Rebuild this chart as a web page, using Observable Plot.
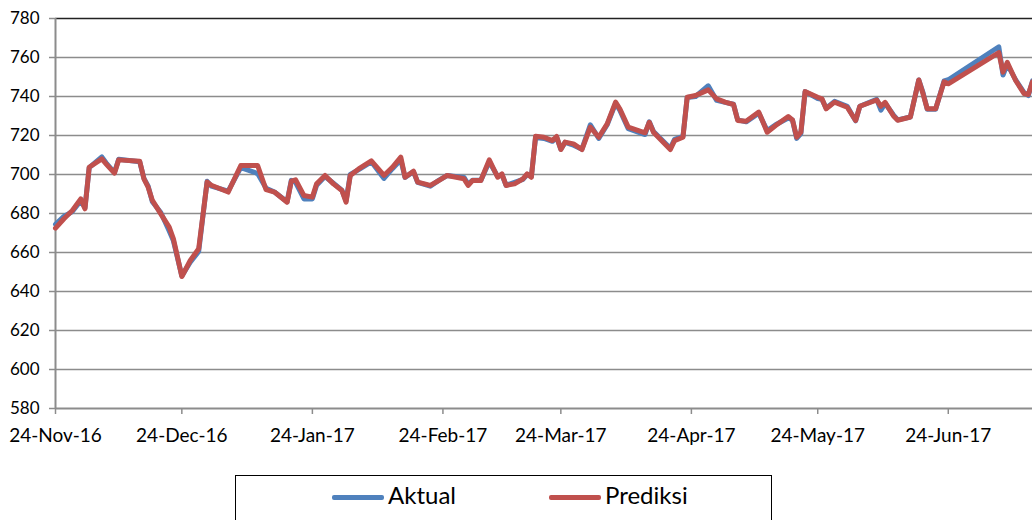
<!DOCTYPE html>
<html>
<head>
<meta charset="utf-8">
<script src="https://cdn.jsdelivr.net/npm/d3@7"></script>
<script src="https://cdn.jsdelivr.net/npm/@observablehq/plot@0.6"></script>
<style>
  html, body { margin: 0; padding: 0; background: #fff; }
  #wrap { position: relative; width: 1032px; height: 520px; overflow: hidden; font-family: Lato, sans-serif; }
  #wrap svg { display: block; }
  .legend { position: absolute; left: 235px; top: 475px; width: 537px; height: 70px; border: 1.5px solid #000; box-sizing: border-box; background: #fff; }
  .sw { position: absolute; top: 19px; width: 52px; height: 5px; border-radius: 2px; }
  .lt { position: absolute; top: 5px; font-size: 24px; line-height: 28px; color: #000; }
</style>
</head>
<body>
<div id="wrap"></div>
<script>
// Dates of the line vertices
const dates = [
  "2016-11-24","2016-11-26","2016-11-28","2016-11-30","2016-12-01","2016-12-02","2016-12-05","2016-12-06",
  "2016-12-08","2016-12-09","2016-12-14","2016-12-15","2016-12-16","2016-12-17","2016-12-19","2016-12-21",
  "2016-12-22","2016-12-24","2016-12-26","2016-12-28","2016-12-30","2016-12-31","2017-01-04","2017-01-07",
  "2017-01-11","2017-01-13","2017-01-15","2017-01-18","2017-01-19","2017-01-20","2017-01-22","2017-01-24",
  "2017-01-25","2017-01-27","2017-01-29","2017-01-31","2017-02-01","2017-02-02","2017-02-04","2017-02-07",
  "2017-02-10","2017-02-12","2017-02-14","2017-02-15","2017-02-17","2017-02-18","2017-02-21","2017-02-23",
  "2017-02-25","2017-03-01","2017-03-02","2017-03-03","2017-03-05","2017-03-07","2017-03-09","2017-03-10",
  "2017-03-11","2017-03-13","2017-03-15","2017-03-16","2017-03-17","2017-03-18","2017-03-20","2017-03-22",
  "2017-03-23","2017-03-24","2017-03-25","2017-03-27","2017-03-29","2017-03-31","2017-04-02","2017-04-04",
  "2017-04-06","2017-04-07","2017-04-09","2017-04-13","2017-04-14","2017-04-15","2017-04-19","2017-04-20",
  "2017-04-22","2017-04-23","2017-04-25","2017-04-28","2017-04-30","2017-05-02","2017-05-04","2017-05-05",
  "2017-05-07","2017-05-10","2017-05-12","2017-05-14","2017-05-17","2017-05-18","2017-05-19","2017-05-20",
  "2017-05-21","2017-05-24","2017-05-25","2017-05-26","2017-05-28","2017-05-31","2017-06-02","2017-06-03",
  "2017-06-07","2017-06-08","2017-06-09","2017-06-11","2017-06-12","2017-06-15","2017-06-17","2017-06-18",
  "2017-06-19","2017-06-21","2017-06-23","2017-06-24","2017-07-06","2017-07-07","2017-07-08","2017-07-10",
  "2017-07-12","2017-07-13","2017-07-14"
];
const aktual = [
  674.5,678.5,681.0,686.5,683.0,703.5,709.0,706.0,
  701.0,707.8,706.5,698.0,694.0,686.0,680.5,671.0,
  666.0,648.0,655.0,660.5,696.5,694.0,691.5,703.5,
  700.5,693.0,691.0,686.0,697.0,696.0,687.5,687.5,
  694.5,699.0,695.5,692.0,686.5,700.0,702.5,706.5,
  698.0,703.0,707.5,698.5,701.5,696.0,694.0,697.0,
  699.5,698.5,695.0,697.0,697.0,706.5,699.0,700.0,
  694.5,696.0,697.5,700.0,699.0,719.0,718.5,717.0,
  719.0,713.0,716.5,715.0,713.0,725.5,718.5,725.5,
  736.5,733.0,723.5,720.5,727.0,722.0,713.5,718.0,
  719.5,739.5,740.0,745.5,738.0,737.0,736.0,728.0,
  727.0,731.5,722.5,725.5,729.0,728.0,718.5,721.0,
  742.5,739.0,738.5,734.0,737.5,735.0,727.5,735.0,
  738.5,733.0,736.5,730.5,728.0,729.5,748.5,742.0,
  733.5,733.5,748.0,748.6,765.5,751.0,756.5,748.5,
  742.0,740.5,748.0
];
const prediksi = [
  672.5,677.3,681.5,687.5,682.4,703.7,708.0,705.5,
  700.7,707.5,706.8,697.8,693.5,686.7,679.8,673.0,
  667.0,647.7,655.9,661.9,696.1,694.5,691.0,704.6,
  704.6,692.2,691.0,685.8,696.6,697.3,689.2,688.4,
  695.2,699.5,695.2,691.8,685.8,699.5,702.9,707.0,
  699.5,703.7,708.9,698.6,701.7,696.1,694.4,696.9,
  699.5,697.8,694.4,696.9,696.9,707.5,698.6,700.3,
  694.4,695.2,697.8,700.3,698.6,719.6,719.1,717.4,
  719.5,712.8,716.6,715.7,712.8,724.3,719.1,726.0,
  737.1,733.7,724.3,721.4,726.8,721.7,712.8,717.4,
  719.1,739.6,740.5,743.4,738.8,737.1,735.9,727.7,
  727.3,732.0,721.7,725.1,729.7,728.0,719.1,721.7,
  742.5,739.6,738.8,733.7,737.1,734.5,727.7,735.0,
  738.2,735.0,737.0,730.0,727.8,729.5,748.5,741.4,
  733.7,733.7,747.5,746.5,762.5,752.5,757.5,748.2,
  741.5,741.0,747.5
];
const yTicks = [580,600,620,640,660,680,700,720,740,760,780];
const xTickLabels = ["2016-11-24","2016-12-24","2017-01-24","2017-02-24","2017-03-24","2017-04-24","2017-05-24","2017-06-24"];
const xDomain = ["2016-11-24","2017-07-14"];
const seriesNames = ["Aktual","Prediksi"];
const seriesColors = ["#4F81BD","#C0504D"];

const parse = d3.utcParse("%Y-%m-%d");
const rowsA = dates.map((d, i) => ({date: parse(d), value: aktual[i]}));
const rowsP = dates.map((d, i) => ({date: parse(d), value: prediksi[i]}));
const xTicks = xTickLabels.map(parse);
const fmt = d3.utcFormat("%d-%b-%y");

const chart = Plot.plot({
  width: 1032,
  height: 460,
  marginLeft: 55,
  marginRight: 0,
  marginTop: 18,
  marginBottom: 52,
  style: {fontFamily: "Lato, sans-serif", color: "#000", background: "#fff", overflow: "visible"},
  x: {type: "utc", domain: xDomain.map(parse)},
  y: {domain: [580, 780]},
  marks: [
    Plot.ruleY(yTicks.slice(1, -1), {stroke: "#8c8c8c", strokeWidth: 1.5}),
    Plot.ruleY([yTicks[yTicks.length - 1]], {stroke: "#222", strokeWidth: 1.5}),
    Plot.ruleY([yTicks[0]], {stroke: "#8c8c8c", strokeWidth: 2}),
    Plot.ruleX([parse(xDomain[0])], {stroke: "#8c8c8c", strokeWidth: 2}),
    Plot.axisY({ticks: yTicks, tickSize: 6, tickPadding: 10, stroke: "#8c8c8c", strokeWidth: 1.5, fill: "#000", fontSize: 17, label: null, tickFormat: d => String(d)}),
    Plot.axisX({ticks: xTicks, tickSize: 6, tickPadding: 14, stroke: "#8c8c8c", strokeWidth: 1.5, fill: "#000", fontSize: 19, label: null, tickFormat: fmt}),
    Plot.lineY(rowsA, {x: "date", y: "value", stroke: seriesColors[0], strokeWidth: 5, strokeLinejoin: "round", strokeLinecap: "round"}),
    Plot.lineY(rowsP, {x: "date", y: "value", stroke: seriesColors[1], strokeWidth: 5, strokeLinejoin: "round", strokeLinecap: "round"})
  ]
});

const wrap = document.getElementById("wrap");
wrap.appendChild(chart);

const legend = document.createElement("div");
legend.className = "legend";
const pos = [[96, 152], [313, 369]];
seriesNames.forEach((name, i) => {
  const sw = document.createElement("span");
  sw.className = "sw";
  sw.style.left = pos[i][0] + "px";
  sw.style.background = seriesColors[i];
  const lt = document.createElement("span");
  lt.className = "lt";
  lt.style.left = pos[i][1] + "px";
  lt.textContent = name;
  legend.appendChild(sw);
  legend.appendChild(lt);
});
wrap.appendChild(legend);
</script>
</body>
</html>
